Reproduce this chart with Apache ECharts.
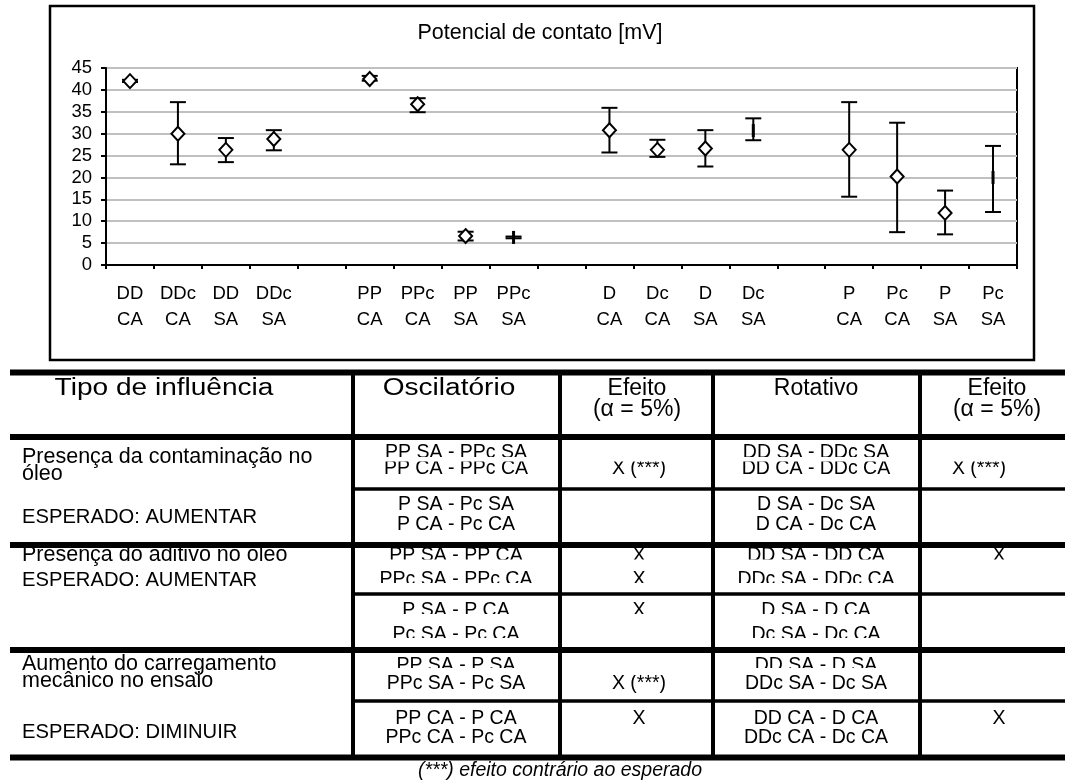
<!DOCTYPE html>
<html>
<head>
<meta charset="utf-8">
<script src="https://cdn.jsdelivr.net/npm/echarts@6.0.0/dist/echarts.min.js"></script>
<style>
  html, body { margin: 0; padding: 0; background: #fff; }
  #chart { width: 1065px; height: 780px; }
</style>
</head>
<body>
<div id="chart"></div>
<script>
// Contact potential per test condition (mean with min/max range), mV
const categories = ['DD\nCA', 'DDc\nCA', 'DD\nSA', 'DDc\nSA', '',
                    'PP\nCA', 'PPc\nCA', 'PP\nSA', 'PPc\nSA', '',
                    'D\nCA', 'Dc\nCA', 'D\nSA', 'Dc\nSA', '',
                    'P\nCA', 'Pc\nCA', 'P\nSA', 'Pc\nSA'];
const meanValues = [42.0, 30.0, 26.3, 28.8, null,
                    42.5, 36.7, 6.6, 6.3, null,
                    30.8, 26.3, 26.6, 30.7, null,
                    26.3, 20.2, 11.9, 20.0];
const lowValues  = [41.8, 23.0, 23.5, 26.2, null,
                    42.1, 34.9, 5.6, 6.1, null,
                    25.7, 24.7, 22.5, 28.5, null,
                    15.6, 7.5, 7.0, 12.1];
const highValues = [42.3, 37.2, 29.0, 30.8, null,
                    43.2, 38.1, 7.6, 6.5, null,
                    35.9, 28.6, 30.8, 33.5, null,
                    37.2, 32.5, 17.0, 27.2];
// 'd' = diamond marker, 'b' = short bar marker
const markerKinds = ['d', 'd', 'd', 'd', null,
                     'd', 'd', 'd', 'b', null,
                     'd', 'd', 'd', 'b', null,
                     'd', 'd', 'd', 'b'];
const yTicks = { min: 0, max: 45, step: 5 };
const chartTitle = 'Potencial de contato [mV]';

// Summary table
const headerCells = ['Tipo de influência', 'Oscilatório', 'Efeito', 'Rotativo', 'Efeito'];
const alphaNote = '(α = 5%)';
const influenceLabels = [
  ['Presença da contaminação no', 'óleo', 'ESPERADO: AUMENTAR'],
  ['Presença do aditivo no óleo', 'ESPERADO: AUMENTAR'],
  ['Aumento do carregamento', 'mecânico no ensaio', 'ESPERADO: DIMINUIR']
];
const oscPairs = [
  ['PP SA - PPc SA', 'PP CA - PPc CA'], ['P SA - Pc SA', 'P CA - Pc CA'],
  ['PP SA - PP CA', 'PPc SA - PPc CA'], ['P SA - P CA', 'Pc SA - Pc CA'],
  ['PP SA - P SA', 'PPc SA - Pc SA'], ['PP CA - P CA', 'PPc CA - Pc CA']
];
const oscEffect = [['', 'X (***)'], ['', ''], ['X', 'X'], ['X', ''], ['', 'X (***)'], ['X', '']];
const rotPairs = [
  ['DD SA - DDc SA', 'DD CA - DDc CA'], ['D SA - Dc SA', 'D CA - Dc CA'],
  ['DD SA - DD CA', 'DDc SA - DDc CA'], ['D SA - D CA', 'Dc SA - Dc CA'],
  ['DD SA - D SA', 'DDc SA - Dc SA'], ['DD CA - D CA', 'DDc CA - Dc CA']
];
const rotEffect = [['', 'X (***)'], ['', ''], ['X', ''], ['', ''], ['', ''], ['X', '']];
const footnote = '(***) efeito contrário ao esperado';

const FONT = '"Liberation Sans", Arial, sans-serif';

// ---- series data built from the arrays above
const errorData = [], diamondData = [], barData = [];
categories.forEach((c, i) => {
  if (meanValues[i] == null) return;
  errorData.push([i, lowValues[i], highValues[i]]);
  (markerKinds[i] === 'b' ? barData : diamondData).push([i, meanValues[i]]);
});

// ---- table layout (pixel positions of rules and text lines)
const TBL = {
  left: 10, right: 1065,
  thick: [372.5, 437, 545, 650, 757.5],
  thin: [489, 594, 701],
  vlines: [353, 560, 713, 920],
  colX: { osc: 456, oscFx: 639, rot: 816, rotFx: 999, rotFxNote: 979 },
  labelX: 22,
  labelY: [[457.5, 474.5, 517], [555.5, 580.5], [664, 681, 732.5]],
  subY: [[452.5, 469], [505, 525], [556, 580], [610.7, 634.8], [666, 684], [719, 738]],
  clipY: [[457, null], [null, null], [559.5, 583], [614, 638], [668, null], [null, null]]
};

const els = [];
function text(x, y, s, size, o) {
  o = o || {};
  if (!s) return;
  els.push({
    type: 'text', x: x, y: y, z: 10, scaleX: o.scaleX || 1,
    style: {
      text: s, fontSize: size, fontFamily: FONT, fill: '#000',
      fontStyle: o.italic ? 'italic' : 'normal',
      align: o.align || 'center', verticalAlign: 'middle'
    }
  });
}
function rule(x, y, w, h) {
  els.push({ type: 'rect', z: 30, shape: { x: x, y: y, width: w, height: h }, style: { fill: '#000' } });
}
function mask(x, y, w, h) {
  els.push({ type: 'rect', z: 20, shape: { x: x, y: y, width: w, height: h }, style: { fill: '#fff' } });
}

// chart frame and title
els.push({ type: 'rect', z: 5, shape: { x: 50, y: 6, width: 984, height: 354 },
  style: { fill: 'none', stroke: '#000', lineWidth: 2.5 } });
text(540, 33, chartTitle, 21.5);

// header
text(164, 389, headerCells[0], 23, { scaleX: 1.22 });
text(449, 389, headerCells[1], 23, { scaleX: 1.22 });
text(637, 389, headerCells[2], 23);
text(637, 410, alphaNote, 23);
text(816, 389, headerCells[3], 23);
text(997, 389, headerCells[4], 23);
text(997, 410, alphaNote, 23);

// influence labels (the "ESPERADO" lines are set slightly narrower)
influenceLabels.forEach((lines, r) => {
  lines.forEach((s, k) => {
    const size = s.indexOf('ESPERADO') === 0 ? 20.2 : 21.5;
    text(TBL.labelX, TBL.labelY[r][k], s, size, { align: 'left' });
  });
});

// comparison cells
oscPairs.forEach((pair, r) => {
  for (let k = 0; k < 2; k++) {
    const y = TBL.subY[r][k];
    text(TBL.colX.osc, y, pair[k], 19.5);
    text(TBL.colX.rot, y, rotPairs[r][k], 19.5);
    const of = oscEffect[r][k];
    text(TBL.colX.oscFx, y, of, 19.5);
    const rf = rotEffect[r][k];
    text(rf.length > 1 ? TBL.colX.rotFxNote : TBL.colX.rotFx, y, rf, 19.5);
    const cy = TBL.clipY[r][k];
    if (cy != null) mask(TBL.vlines[0] + 2, cy, TBL.right - TBL.vlines[0] - 2, y + 9 - cy);
  }
});

// rules
TBL.thick.forEach(y => rule(TBL.left, y - 3, TBL.right - TBL.left, 6));
TBL.thin.forEach(y => rule(TBL.vlines[0], y - 1.75, TBL.right - TBL.vlines[0], 3.5));
TBL.vlines.forEach(x => rule(x - 2, TBL.thick[0], 4, TBL.thick[4] - TBL.thick[0]));

text(560, 771, footnote, 19.5, { italic: true });

const chart = echarts.init(document.getElementById('chart'), null, { renderer: 'canvas' });
chart.setOption({
  animation: false,
  backgroundColor: '#fff',
  grid: { left: 106, top: 68, right: 48, bottom: 515, show: true, borderColor: '#000', borderWidth: 2 },
  xAxis: {
    type: 'category',
    data: categories,
    boundaryGap: true,
    axisLine: { lineStyle: { color: '#000', width: 2 } },
    axisTick: { show: true, interval: 0, length: 4, lineStyle: { color: '#000', width: 2 } },
    axisLabel: { interval: 0, color: '#000', fontFamily: FONT, fontSize: 18.5, lineHeight: 26, margin: 16 },
    splitLine: { show: false }
  },
  yAxis: {
    type: 'value',
    min: yTicks.min, max: yTicks.max, interval: yTicks.step,
    axisLine: { show: true, lineStyle: { color: '#000', width: 2 } },
    axisTick: { show: true, length: 5, lineStyle: { color: '#000', width: 2 } },
    axisLabel: { color: '#000', fontFamily: FONT, fontSize: 18.5, margin: 14 },
    splitLine: { show: true, lineStyle: { color: '#c0c0c0', width: 2 } }
  },
  series: [
    {
      type: 'custom',
      name: 'range',
      data: errorData,
      encode: { x: 0, y: [1, 2] },
      z: 3,
      renderItem: function (params, api) {
        const i = api.value(0);
        const lo = api.coord([i, api.value(1)]);
        const hi = api.coord([i, api.value(2)]);
        const half = 8;
        const st = { stroke: '#000', lineWidth: 2 };
        return {
          type: 'group',
          children: [
            { type: 'line', shape: { x1: lo[0], y1: lo[1], x2: hi[0], y2: hi[1] }, style: st },
            { type: 'line', shape: { x1: hi[0] - half, y1: hi[1], x2: hi[0] + half, y2: hi[1] }, style: st },
            { type: 'line', shape: { x1: lo[0] - half, y1: lo[1], x2: lo[0] + half, y2: lo[1] }, style: st }
          ]
        };
      }
    },
    {
      type: 'scatter',
      name: 'mean',
      data: diamondData,
      symbol: 'diamond',
      symbolSize: [13, 14],
      z: 4,
      itemStyle: { color: '#fff', borderColor: '#000', borderWidth: 2, opacity: 1 }
    },
    {
      type: 'scatter',
      name: 'mean ',
      data: barData,
      symbol: 'rect',
      symbolSize: [3, 13],
      z: 4,
      itemStyle: { color: '#000', opacity: 1 }
    }
  ],
  graphic: { elements: els }
});
</script>
</body>
</html>
